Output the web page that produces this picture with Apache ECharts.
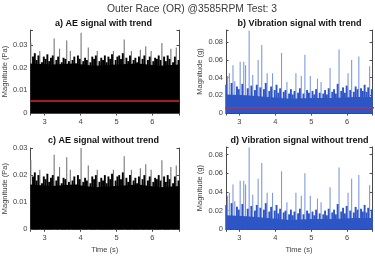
<!DOCTYPE html>
<html>
<head>
<meta charset="utf-8">
<script src="https://cdn.jsdelivr.net/npm/echarts@6/dist/echarts.min.js"></script>
<style>
html, body { margin: 0; padding: 0; background: #fff; }
#main { width: 375px; height: 257px; }
</style>
</head>
<body>
<div id="main"></div>
<script>
// sample spacing of the envelope readings (s)
var step = 0.05;
var aeStart = 2.625;
var vibStart = 2.635;

// AE signal without trend, peak per 0.05 s slot (Pa)
var aeNoTrend = [
  0.0257, 0.0195, 0.0210, 0.0180, 0.0200, 0.0220, 0.0170, 0.0195, 0.0185, 0.0205,
  0.0175, 0.0190, 0.0200, 0.0275, 0.0180, 0.0195, 0.0230, 0.0170, 0.0190, 0.0185,
  0.0266, 0.0175, 0.0220, 0.0180, 0.0195, 0.0165, 0.0200, 0.0185, 0.0300, 0.0175,
  0.0190, 0.0180, 0.0235, 0.0170, 0.0195, 0.0185, 0.0200, 0.0220, 0.0175, 0.0190,
  0.0180, 0.0200, 0.0170, 0.0195, 0.0185, 0.0205, 0.0220, 0.0180, 0.0195, 0.0200,
  0.0185, 0.0210, 0.0270, 0.0190, 0.0175, 0.0200, 0.0220, 0.0180, 0.0190, 0.0170,
  0.0195, 0.0225, 0.0185, 0.0200, 0.0240, 0.0180, 0.0195, 0.0220, 0.0175, 0.0190,
  0.0185, 0.0200, 0.0180, 0.0255, 0.0195, 0.0175, 0.0200, 0.0185, 0.0230, 0.0170,
  0.0195, 0.0235, 0.0180
];

// vibration signal without trend, peak per 0.05 s slot (g)
var vibNoTrend = [
  0.026, 0.036, 0.039, 0.028, 0.048, 0.030, 0.024, 0.021, 0.052, 0.027,
  0.052, 0.048, 0.022, 0.0875, 0.025, 0.037, 0.020, 0.026, 0.054, 0.023,
  0.071, 0.021, 0.028, 0.039, 0.019, 0.024, 0.039, 0.020, 0.026, 0.017,
  0.022, 0.062, 0.018, 0.020, 0.029, 0.016, 0.021, 0.015, 0.019, 0.039,
  0.017, 0.022, 0.036, 0.016, 0.060, 0.020, 0.017, 0.036, 0.019, 0.015,
  0.021, 0.033, 0.017, 0.029, 0.016, 0.020, 0.015, 0.022, 0.045, 0.018,
  0.021, 0.016, 0.027, 0.066, 0.019, 0.023, 0.017, 0.025, 0.039, 0.020,
  0.054, 0.018, 0.024, 0.021, 0.058, 0.022, 0.019, 0.026, 0.018, 0.023,
  0.047, 0.021
];

// level of the dense (solid) part of each signal
var floorTimes = [2.6, 3.2, 3.8, 4.4, 5.0, 5.6, 6.2, 6.75];
var aeFloor = [0.0165, 0.016, 0.0165, 0.0155, 0.016, 0.0165, 0.0155, 0.016];
var vibFloor = [0.015, 0.014, 0.012, 0.010, 0.011, 0.011, 0.012, 0.012];

// red trend level (start, end)
var aeTrend = [0.0053, 0.0053];
var vibTrend = [0.006, 0.006];

var xTicks = [3, 4, 5, 6];

function toPairs(start, vals, offset) {
  return vals.map(function (v, i) { return [+(start + i * step).toFixed(3), v + offset]; });
}
function floorPairs(vals, offset) {
  return vals.map(function (v, i) { return [floorTimes[i], v + offset]; });
}
function trendPairs(vals) {
  return [[floorTimes[0], vals[0]], [floorTimes[floorTimes.length - 1], vals[1]]];
}

var panels = [
  { title: 'a) AE signal with trend', cx: 103.5, ty: 24, grid: { left: 29, top: 30, width: 150, height: 83 },
    xMin: 2.605, xMax: 6.74, yMax: 0.0365, yStep: 0.01, yName: 'Magnitude (Pa)', nameGap: 19,
    data: toPairs(aeStart, aeNoTrend, aeTrend[0]), floor: floorPairs(aeFloor, aeTrend[0]), cut: 0.0215 + aeTrend[0],
    dark: '#000000', light: '#767676', trend: trendPairs(aeTrend), time: false },
  { title: 'b) Vibration signal with trend', cx: 299.5, ty: 24, grid: { left: 226, top: 30, width: 147, height: 83 },
    xMin: 2.63, xMax: 6.69, yMax: 0.094, yStep: 0.02, yName: 'Magnitude (g)', nameGap: 22,
    data: toPairs(vibStart, vibNoTrend, vibTrend[0]), floor: floorPairs(vibFloor, vibTrend[0]), cut: 0.028 + vibTrend[0],
    dark: '#2d55c6', light: '#7d99df', trend: trendPairs(vibTrend), time: false },
  { title: 'c) AE signal without trend', cx: 103.5, ty: 140.7, grid: { left: 29, top: 148, width: 150, height: 81.3 },
    xMin: 2.605, xMax: 6.74, yMax: 0.03, yStep: 0.01, yName: 'Magnitude (Pa)', nameGap: 19,
    data: toPairs(aeStart, aeNoTrend, 0), floor: floorPairs(aeFloor, 0), cut: 0.0215,
    dark: '#000000', light: '#767676', trend: null, time: true },
  { title: 'd) Vibration signal without trend', cx: 299.5, ty: 140.7, grid: { left: 226, top: 147, width: 147, height: 82.3 },
    xMin: 2.63, xMax: 6.69, yMax: 0.088, yStep: 0.02, yName: 'Magnitude (g)', nameGap: 22,
    data: toPairs(vibStart, vibNoTrend, 0), floor: floorPairs(vibFloor, 0), cut: 0.028,
    dark: '#2d55c6', light: '#7d99df', trend: null, time: true }
];

var lineCol = '#4a4a4a';
var labelCol = '#444';
var grids = [], xAxes = [], yAxes = [], series = [], texts = [];

texts.push({ type: 'text', x: 192, y: 9, style: { text: 'Outer Race (OR) @3585RPM Test: 3', fill: '#3a3a3a',
  font: '10.3px "Liberation Sans", Arial, sans-serif', textAlign: 'center', textVerticalAlign: 'middle' } });

panels.forEach(function (p, i) {
  grids.push(p.grid);
  var tickAxis = { inside: true, length: 2.5, lineStyle: { color: lineCol } };
  var axLine = { show: true, lineStyle: { color: lineCol, width: 1 } };
  // bottom x axis with labels
  xAxes.push({
    gridIndex: i, type: 'value', min: p.xMin, max: p.xMax, position: 'bottom',
    axisLine: axLine, axisTick: tickAxis, splitLine: { show: false },
    axisLabel: { fontSize: 7.5, color: labelCol, margin: 5, fontFamily: 'Liberation Sans',
      formatter: function (v) { return xTicks.indexOf(Math.round(v * 1000) / 1000) >= 0 ? String(v) : ''; } },
    name: p.time ? 'Time (s)' : '', nameLocation: 'middle', nameGap: 17,
    nameTextStyle: { fontSize: 7.5, color: labelCol, fontFamily: 'Liberation Sans' }
  });
  // top x axis: box edge + ticks only
  xAxes.push({
    gridIndex: i, type: 'value', min: p.xMin, max: p.xMax, position: 'top',
    axisLine: axLine, axisTick: tickAxis, axisLabel: { show: false }, splitLine: { show: false }
  });
  yAxes.push({
    gridIndex: i, type: 'value', min: 0, max: p.yMax, interval: p.yStep, position: 'left',
    axisLine: axLine, axisTick: tickAxis, splitLine: { show: false },
    axisLabel: { fontSize: 7.5, color: labelCol, margin: 3, fontFamily: 'Liberation Sans',
      formatter: function (v) {
        var k = v / p.yStep;
        if (Math.abs(k - Math.round(k)) > 1e-6) return '';
        return v === 0 ? '0' : v.toFixed(2);
      } },
    name: p.yName, nameLocation: 'middle', nameGap: p.nameGap,
    nameTextStyle: { fontSize: 7.5, color: labelCol, fontFamily: 'Liberation Sans' }
  });
  yAxes.push({
    gridIndex: i, type: 'value', min: 0, max: p.yMax, interval: p.yStep, position: 'right',
    axisLine: axLine, axisTick: tickAxis, axisLabel: { show: false }, splitLine: { show: false }
  });

  // tall spikes: thin, lighter
  series.push({
    type: 'bar', xAxisIndex: i * 2, yAxisIndex: i * 2, barWidth: 1.1, z: 1,
    data: p.data.filter(function (d) { return d[1] > p.cut; }),
    itemStyle: { color: p.light }
  });
  // dense part: full-width dark bars
  series.push({
    type: 'bar', xAxisIndex: i * 2, yAxisIndex: i * 2, barWidth: 1.9, barGap: '-100%', z: 2,
    data: p.data.filter(function (d) { return d[1] <= p.cut; }),
    itemStyle: { color: p.dark }
  });
  series.push({
    type: 'line', xAxisIndex: i * 2, yAxisIndex: i * 2, data: p.floor, showSymbol: false, z: 3,
    lineStyle: { width: 0 }, areaStyle: { color: p.dark, opacity: 1 }
  });
  if (p.trend) {
    series.push({
      type: 'line', xAxisIndex: i * 2, yAxisIndex: i * 2, data: p.trend, showSymbol: false, z: 4,
      lineStyle: { color: '#d42a2a', width: 1.5 }
    });
  }

  texts.push({ type: 'text', x: p.cx, y: p.ty, style: { text: p.title, fill: '#111',
    font: 'bold 9px "Liberation Sans", Arial, sans-serif', textAlign: 'center', textVerticalAlign: 'middle' } });
});

var chart = echarts.init(document.getElementById('main'));
chart.setOption({
  animation: false,
  backgroundColor: '#fff',
  grid: grids,
  xAxis: xAxes,
  yAxis: yAxes,
  series: series,
  graphic: texts
});
</script>
</body>
</html>
